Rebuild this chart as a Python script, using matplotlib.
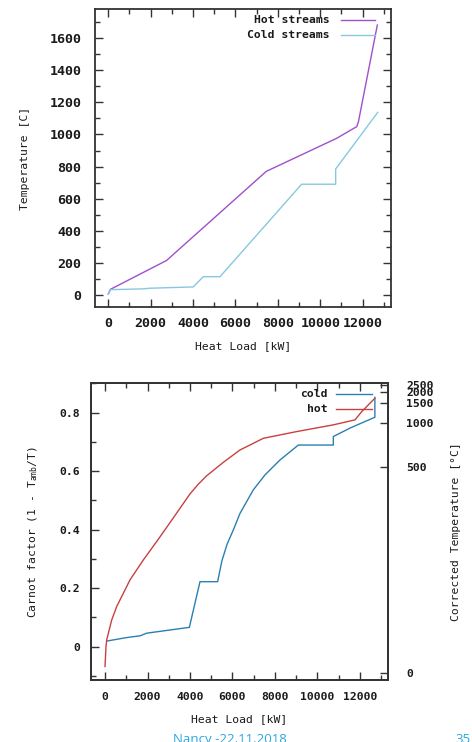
import matplotlib
matplotlib.use("Agg")
import matplotlib.pyplot as plt
from matplotlib.ticker import MultipleLocator

# ---------------- data ----------------
# Composite curves (top)
hot_load = [0, 100, 2750, 7450, 10770, 11720, 11800, 12690]
hot_temp = [6, 35, 215, 770, 976, 1049, 1080, 1682]
cold_load = [0, 110, 1000, 1650, 1960, 4010, 4480, 5270, 9120, 10725, 10725, 12710]
cold_temp = [5, 33, 36, 38, 42, 50, 114, 114, 690, 690, 785, 1138]

# Carnot-factor curves (bottom)
carnot_hot_load = [0, 47, 80, 315, 550, 1176, 1800, 2430, 2820, 3530, 4000, 4400,
                   4786, 5570, 6350, 7450, 9020, 10745, 11765, 12080, 12700]
carnot_hot = [-0.068, 0.0, 0.023, 0.091, 0.137, 0.228, 0.296, 0.359, 0.399,
              0.473, 0.522, 0.556, 0.584, 0.630, 0.672, 0.712, 0.735, 0.758,
              0.775, 0.803, 0.849]
carnot_cold_load = [80, 1020, 1650, 1960, 3970, 4470, 5300, 5500, 5750, 6040,
                    6350, 6980, 7530, 8235, 9100, 10745, 10745, 11530, 12700, 12700]
carnot_cold = [0.019, 0.031, 0.037, 0.046, 0.066, 0.222, 0.222, 0.293, 0.351,
               0.399, 0.455, 0.536, 0.587, 0.638, 0.689, 0.689, 0.718, 0.747,
               0.784, 0.852]

top_yticks = [0, 200, 400, 600, 800, 1000, 1200, 1400, 1600]
xticks = [0, 2000, 4000, 6000, 8000, 10000, 12000]
bot_yticks = [0, 0.2, 0.4, 0.6, 0.8]
bot_ylabels = ["0", "0.2", "0.4", "0.6", "0.8"]
corr_temp_ticks = [0, 500, 1000, 1500, 2000, 2500]
T_AMB = 298.15

# ---------------- style ----------------
FONT = "DejaVu Sans Mono"
FS_BIG = 9.6   # top-chart tick labels
FS = 8.2       # all other texts
TXT = "#1a1a1a"
plt.rcParams["font.family"] = [FONT, "DejaVu Sans"]
plt.rcParams["font.weight"] = "bold"
plt.rcParams["mathtext.fontset"] = "custom"
plt.rcParams["mathtext.rm"] = FONT + ":bold"
plt.rcParams["mathtext.default"] = "regular"

HOT_TOP = "#a050c8"
COLD_TOP = "#86c8e0"
HOT_BOT = "#c84040"
COLD_BOT = "#2a80b0"

fig = plt.figure(figsize=(4.72, 7.42), dpi=100)
W, H = 472.0, 742.0


def axes_px(left, top, right, bottom):
    return fig.add_axes([left / W, 1 - bottom / H, (right - left) / W, (bottom - top) / H])


def style_axes(ax, fs):
    for s in ax.spines.values():
        s.set_color("#333333")
        s.set_linewidth(1.3)
    ax.tick_params(which="both", direction="in", colors="#333333",
                   labelcolor=TXT, labelsize=fs)
    ax.tick_params(which="major", length=6, width=1.0)
    ax.tick_params(which="minor", length=3.5, width=1.0)


# ---------------- top chart ----------------
ax1 = axes_px(94.7, 9.3, 391, 307)
ax1.plot(hot_load, hot_temp, color=HOT_TOP, lw=1.0)
ax1.plot(cold_load, cold_temp, color=COLD_TOP, lw=1.0)
ax1.set_xlim(-640, 13335)
ax1.set_ylim(-75, 1780)
ax1.set_xticks(xticks)
ax1.set_yticks(top_yticks)
ax1.xaxis.set_minor_locator(MultipleLocator(1000))
ax1.yaxis.set_minor_locator(MultipleLocator(100))
style_axes(ax1, FS_BIG)
ax1.tick_params(which="both", top=True, right=True)
ax1.tick_params(axis="x", pad=7)
ax1.tick_params(axis="y", pad=9.5)
ax1.set_xlabel("Heat Load [kW]", fontsize=FS, color=TXT, labelpad=8)
ax1.set_ylabel("Temperature [C]", fontsize=FS, color=TXT, labelpad=14)

# legend (gnuplot style: right-aligned text, sample to the right)
for lab, col, yy in [("Hot streams", HOT_TOP, 0.964), ("Cold streams", COLD_TOP, 0.9147)]:
    ax1.text(0.7918, yy, lab, transform=ax1.transAxes, ha="right", va="center",
             fontsize=FS, color=TXT)
    ax1.plot([0.8319, 0.946], [yy, yy], transform=ax1.transAxes, color=col, lw=1.0)

# ---------------- bottom chart ----------------
ax2 = axes_px(90.7, 383.3, 388.3, 680)
ax2.plot(carnot_cold_load, carnot_cold, color=COLD_BOT, lw=1.0)
ax2.plot(carnot_hot_load, carnot_hot, color=HOT_BOT, lw=1.0)
ax2.set_xlim(-673, 13332)
ax2.set_ylim(-0.114, 0.9)
ax2.set_xticks(xticks)
ax2.set_yticks(bot_yticks, bot_ylabels)
ax2.xaxis.set_minor_locator(MultipleLocator(1000))
ax2.yaxis.set_minor_locator(MultipleLocator(0.1))
style_axes(ax2, FS)
ax2.tick_params(which="both", top=True, right=False)
ax2.tick_params(axis="x", pad=9)
ax2.tick_params(axis="y", pad=7.5)
ax2.set_xlabel("Heat Load [kW]", fontsize=FS, color=TXT, labelpad=8.5)
ax2.set_ylabel(r"Carnot factor (1 - T$_{amb}$/T)", fontsize=FS,
               color=TXT, labelpad=14)

ax3 = ax2.twinx()
ax3.set_ylim(ax2.get_ylim())
pos = [1 - T_AMB / (t + 273.15) for t in corr_temp_ticks]
ax3.set_yticks(pos, [str(t) for t in corr_temp_ticks])
style_axes(ax3, FS)
ax3.tick_params(axis="y", pad=13)
ax3.set_ylabel("Corrected Temperature [\u00b0C]", fontsize=FS, color=TXT,
               labelpad=12)

for lab, col, yy in [("cold", COLD_BOT, 0.964), ("hot", HOT_BOT, 0.914)]:
    ax2.text(0.796, yy, lab, transform=ax2.transAxes, ha="right", va="center",
             fontsize=FS, color=TXT)
    ax2.plot([0.8259, 0.9462], [yy, yy], transform=ax2.transAxes, color=col, lw=1.0)

# footer (partially cut off at the bottom edge, as in the reference)
fig.text(230 / W, 1 - 733 / H, "Nancy -22.11.2018", ha="center", va="top",
         fontsize=9.5, color="#2aa8e0", family="Open Sans", weight="normal")
fig.text(463 / W, 1 - 733 / H, "35", ha="center", va="top",
         fontsize=9.5, color="#2aa8e0", family="Open Sans", weight="normal")

fig.savefig("out.png", dpi=100)
